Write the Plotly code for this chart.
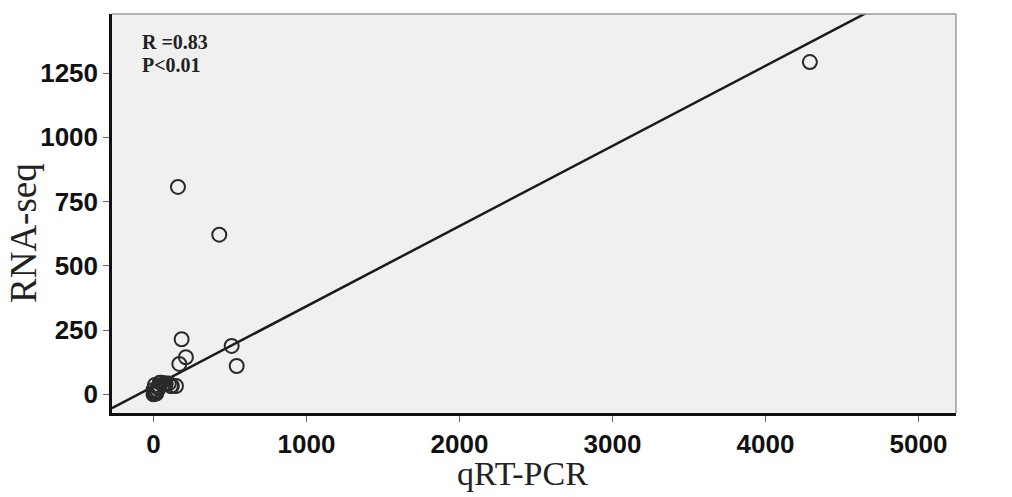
import plotly.graph_objects as go

# Data
qrt_pcr = [4290, 160, 430, 184, 212, 169, 511, 544, 147, 114, 75, 42, 10, 0,
           3, 8, 12, 18, 25, 30, 40, 50, 65, 80, 100, 120, 0]
rna_seq = [1293, 807, 621, 214, 144, 118, 188, 110, 32, 32, 43, 45, 36, 17,
           2, 5, 10, 3, 15, 25, 30, 45, 38, 40, 42, 32, 0]

fit_slope = 0.312
fit_intercept = 30.5

x_range = [-271, 5245]
y_range = [-73, 1480]
x_ticks = [0, 1000, 2000, 3000, 4000, 5000]
y_ticks = [0, 250, 500, 750, 1000, 1250]

x_title = "qRT-PCR"
y_title = "RNA-seq"
stat_lines = ["R =0.83", "P<0.01"]

fig = go.Figure()

line_x = [x_range[0], x_range[1]]
line_y = [fit_intercept + fit_slope * v for v in line_x]
fig.add_trace(go.Scatter(x=line_x, y=line_y, mode="lines",
                         line=dict(color="#1a1a1a", width=2.5),
                         hoverinfo="skip", showlegend=False))

fig.add_trace(go.Scatter(x=qrt_pcr, y=rna_seq, mode="markers",
                         marker=dict(symbol="circle-open", size=14,
                                     color="#2a2a2a", line=dict(width=2)),
                         showlegend=False))

tick_font = dict(family="Liberation Sans, Arial, sans-serif", size=26,
                 color="#111111", weight="bold")
serif = "Liberation Serif, Times New Roman, serif"

fig.update_xaxes(range=x_range, tickvals=x_ticks, showgrid=False, zeroline=False,
                 showline=True, linecolor="#111111", linewidth=2.5,
                 ticks="outside", ticklen=6, tickcolor="#666666", tickwidth=1,
                 tickfont=tick_font)
fig.update_yaxes(range=y_range, tickvals=y_ticks, showgrid=False, zeroline=False,
                 showline=True, linecolor="#111111", linewidth=2.5,
                 ticks="outside", ticklen=6, tickcolor="#666666", tickwidth=1,
                 tickfont=tick_font)

# top and right frame lines
fig.add_shape(type="line", xref="paper", yref="paper", x0=0, x1=1, y0=1, y1=1,
              line=dict(color="#9a9a9a", width=1.5))
fig.add_shape(type="line", xref="paper", yref="paper", x0=1, x1=1, y0=0, y1=1,
              line=dict(color="#9a9a9a", width=1.5))

# axis titles
fig.add_annotation(xref="paper", yref="paper", x=0.486, y=-0.1,
                   xanchor="center", yanchor="top", text=x_title,
                   showarrow=False, font=dict(family=serif, size=34, color="#222222"))
fig.add_annotation(xref="paper", yref="paper", x=-0.1055, y=0.451,
                   xanchor="center", yanchor="middle", text=y_title, textangle=-90,
                   showarrow=False, font=dict(family=serif, size=37, color="#222222"))

# statistics text
for txt, ypos in zip(stat_lines, [0.9298, 0.8722]):
    fig.add_annotation(xref="paper", yref="paper", x=0.034, y=ypos,
                       xanchor="left", yanchor="middle", text=txt, showarrow=False,
                       borderpad=0,
                       font=dict(family=serif, size=20, color="#222222", weight="bold"))

fig.update_layout(width=1012, height=497,
                  margin=dict(l=112, r=56, t=14, b=84),
                  plot_bgcolor="#f0f0f0", paper_bgcolor="white")

fig.write_html("out.html")
